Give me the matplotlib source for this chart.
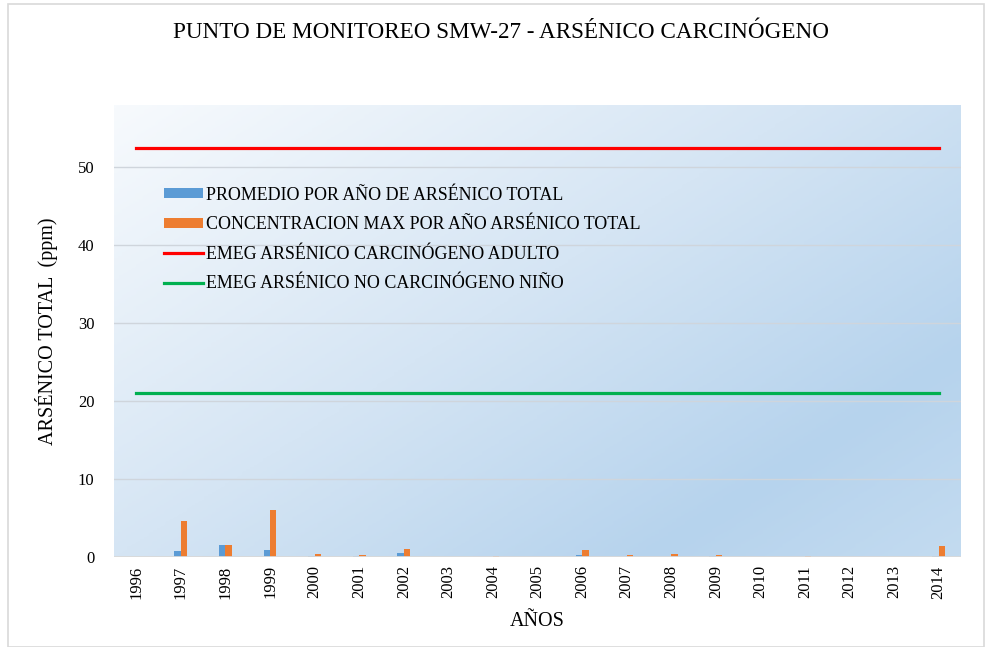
import numpy as np
import matplotlib; matplotlib.use('Agg')
import matplotlib.pyplot as plt
from matplotlib.patches import Rectangle
from matplotlib.colors import LinearSegmentedColormap

plt.rcParams.update({'font.family': ['Liberation Serif', 'DejaVu Serif']})

years = [str(y) for y in range(1996, 2015)]
promedio = [0, 0.73, 1.58, 0.86, 0.13, 0.13, 0.51, 0, 0, 0, 0.26, 0, 0, 0.13, 0, 0, 0, 0, 0.13]
maximo = [0, 4.58, 1.58, 6.03, 0.38, 0.26, 0.98, 0, 0.13, 0, 0.86, 0.26, 0.38, 0.26, 0, 0.13, 0, 0, 1.37]
emeg_adulto = 52.5
emeg_nino = 21.0

fig = plt.figure(figsize=(9.86, 6.47), dpi=100)
ax = fig.add_axes([114 / 986, 1 - 557 / 647, 847 / 986, 452 / 647])

# chart border
fig.patches.append(Rectangle((8 / 986, 0), 976 / 986, 643 / 647, transform=fig.transFigure,
                             fill=False, ec='#d9d9d9', lw=1.2))

# gradient plot background (light top-left -> blue bottom-right)
n = 200
gx, gy = np.meshgrid(np.linspace(0, 1, n), np.linspace(0, 1, n))
t = np.clip(gx * 0.55 + gy * 0.45, 0, 1)
cmap = LinearSegmentedColormap.from_list('bg', [(0, '#f7fafd'), (0.45, '#d5e5f4'),
                                                (0.8, '#b6d3ed'), (1, '#c3dbf0')])
ax.imshow(t, cmap=cmap, extent=[0, 1, 0, 1], transform=ax.transAxes, aspect='auto',
          zorder=0, origin='upper', vmin=0, vmax=1)

x = np.arange(len(years))
w = 0.145
b1 = ax.bar(x - w / 2, promedio, w, color='#5b9bd5', zorder=3)
b2 = ax.bar(x + w / 2, maximo, w, color='#ed7d31', zorder=3)
l1, = ax.plot(x, [emeg_adulto] * len(x), color='#ff0000', lw=2.3, zorder=4)
l2, = ax.plot(x, [emeg_nino] * len(x), color='#00b050', lw=2.3, zorder=4)

ax.set_xlim(-0.5, len(years) - 0.5)
ax.set_ylim(0, 58)
ax.set_yticks(range(0, 60, 10))
ax.set_xticks(x)
ax.set_xticklabels(years, rotation=90, fontsize=12)
ax.tick_params(axis='y', labelsize=12, length=0, pad=14)
ax.tick_params(axis='x', length=0, pad=6)
for v in range(10, 60, 10):
    ax.axhline(v, color='#cfd5dc', lw=1, zorder=1)
ax.axhline(0, color='#d9d9d9', lw=2, zorder=5)
for s in ax.spines.values():
    s.set_visible(False)

ax.set_ylabel('ARSÉNICO TOTAL  (ppm)', fontsize=14.5, labelpad=14)
ax.set_xlabel('AÑOS', fontsize=14.5, labelpad=10)
fig.text(0.508, 1 - 33 / 647, 'PUNTO DE MONITOREO SMW-27 - ARSÉNICO CARCINÓGENO',
         ha='center', va='center', fontsize=16.7)

ax.legend([b1, b2, l1, l2],
          ['PROMEDIO POR AÑO DE ARSÉNICO TOTAL', 'CONCENTRACION MAX POR AÑO ARSÉNICO TOTAL',
           'EMEG ARSÉNICO CARCINÓGENO ADULTO', 'EMEG ARSÉNICO NO CARCINÓGENO NIÑO'],
          loc='upper left', bbox_to_anchor=(0.05, 0.835), frameon=False, fontsize=12.9,
          handlelength=2.2, handleheight=0.5, labelspacing=0.7, handletextpad=0.15,
          borderaxespad=0)

fig.savefig('out.png', dpi=100)
